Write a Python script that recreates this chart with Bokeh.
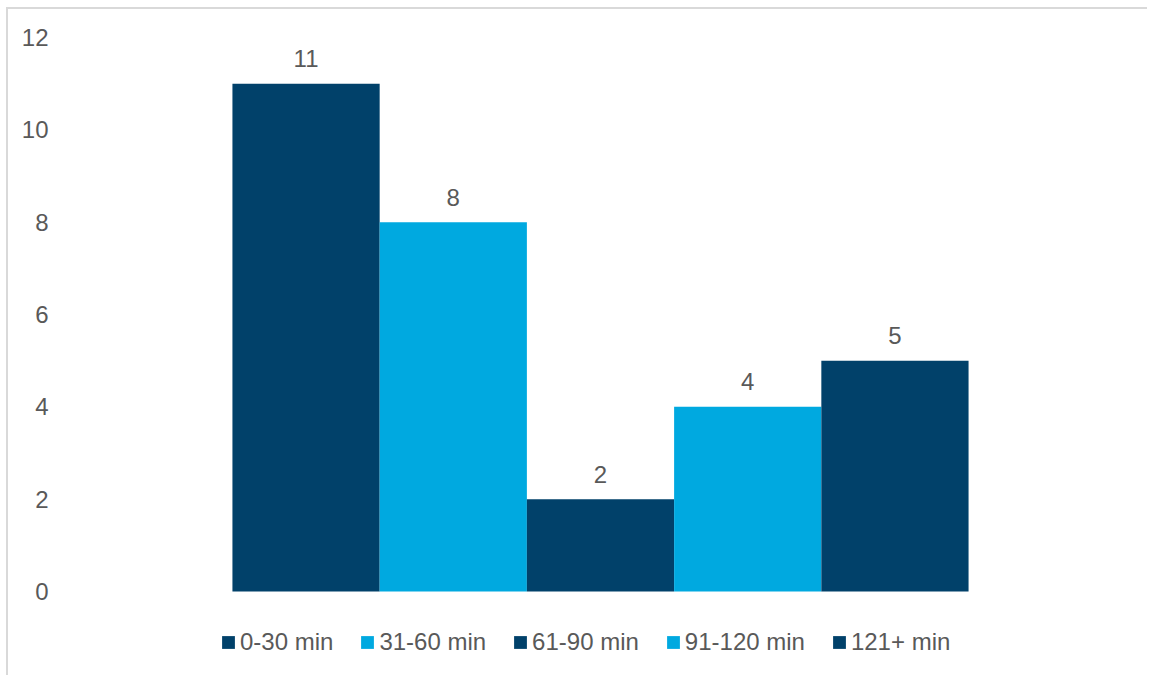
from bokeh.plotting import figure
from bokeh.models import ColumnDataSource, FixedTicker, Range1d, Legend, LegendItem
from bokeh.core.properties import value
from bokeh.embed import file_html
from bokeh.resources import INLINE

categories = ["0-30 min", "31-60 min", "61-90 min", "91-120 min", "121+ min"]
counts = [11, 8, 2, 4, 5]
colors = ["#01416A", "#00A9E0", "#01416A", "#00A9E0", "#01416A"]
y_ticks = [0, 2, 4, 6, 8, 10, 12]

FONT = "Liberation Sans"
TXT = "#595959"

x_pos = list(range(len(categories)))
src = ColumnDataSource(dict(x=x_pos, cat=categories, top=counts, color=colors,
                            label=[str(c) for c in counts]))

p = figure(width=1141, height=668, output_backend="svg", toolbar_location=None,
           x_range=Range1d(-1.532, 5.369), y_range=Range1d(-1.668, 12),
           x_axis_location=None,
           min_border_left=72, min_border_right=53, min_border_top=28, min_border_bottom=9)
p.styles = {"border-top": "2px solid #d9d9d9", "border-left": "2px solid #d9d9d9",
            "margin-left": "6px", "margin-top": "7px"}
p.outline_line_color = None
p.xgrid.visible = False
p.ygrid.visible = False
p.background_fill_color = "white"
p.border_fill_color = "white"

ya = p.yaxis[0]
ya.ticker = FixedTicker(ticks=y_ticks)
ya.axis_line_color = None
ya.major_tick_line_color = None
ya.minor_tick_line_color = None
ya.major_label_standoff = 26
ya.major_label_text_font = FONT
ya.major_label_text_font_size = "24px"
ya.major_label_text_color = TXT

items = []
for i, cat in enumerate(categories):
    s = ColumnDataSource(dict(x=[x_pos[i]], top=[counts[i]]))
    r = p.vbar(x="x", top="top", bottom=0, width=1.0, source=s,
               fill_color=colors[i], line_color=None)
    items.append(LegendItem(label=cat, renderers=[r]))

p.text(x="x", y="top", text="label", source=src, text_align="center",
       text_baseline="middle", y_offset=-25, text_font=value(FONT),
       text_font_size="24px", text_color=TXT)

legend = Legend(items=items, orientation="horizontal", location=(140, 12),
                glyph_width=16, glyph_height=16, label_standoff=4, spacing=26,
                padding=0, margin=0, border_line_color=None,
                background_fill_alpha=0, label_text_font=FONT,
                label_text_font_size="24px", label_text_color=TXT)
p.add_layout(legend, "center")

open("out.html", "w").write(file_html(p, INLINE))
